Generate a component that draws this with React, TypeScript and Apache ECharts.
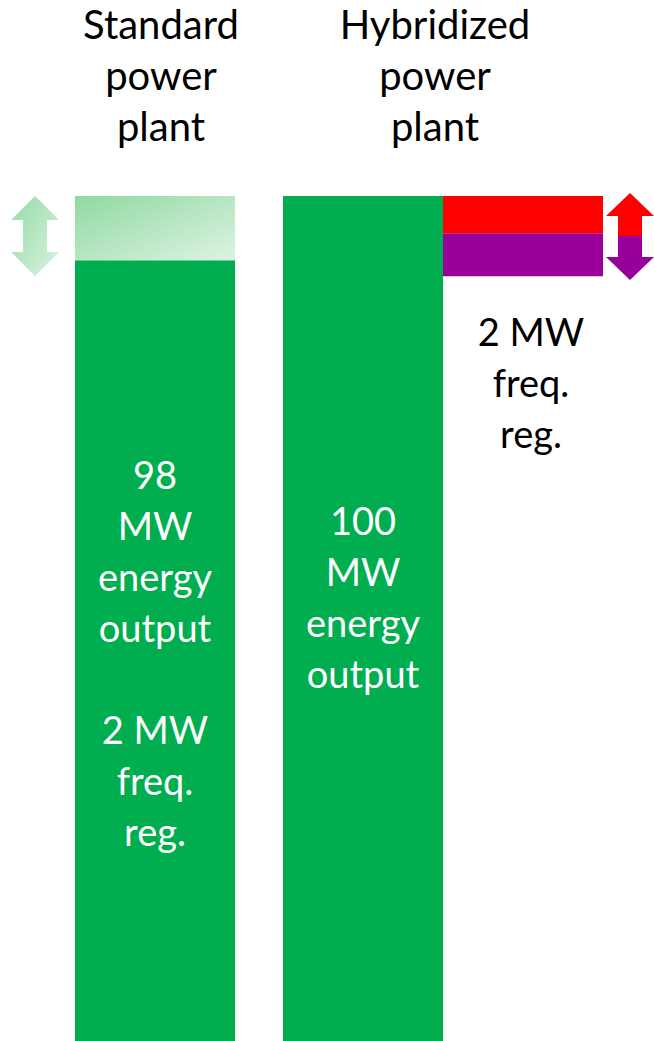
import React, { useEffect, useRef } from "react";
import * as echarts from "echarts";

const categories = ["Standard power plant", "Hybridized power plant"];
const headerTexts = ["Standard\npower\nplant", "Hybridized\npower\nplant"];
// schematic heights (axis 0..100)
const energyValues = [92.4, 100];
const standardRegBand = [7.6, null];
const batteryOffset = [null, 90.5];
const batteryDown = [null, 5.1];
const batteryUp = [null, 4.4];
const energyLabels = [
  "98\nMW\nenergy\noutput\n\n2 MW\nfreq.\nreg.",
  "100\nMW\nenergy\noutput",
];
const batteryLabel = "2 MW\nfreq.\nreg.";

const FONT = "Lato, 'Open Sans', sans-serif";
const GREEN = "#00AE4F";
const RED = "#FF0000";
const PURPLE = "#990099";

export default function App() {
  const ref = useRef<HTMLDivElement>(null);
  useEffect(() => {
    if (!ref.current) return;
    const chart = echarts.init(ref.current, undefined, { renderer: "svg" });
    const lightGrad = new echarts.graphic.LinearGradient(0, 0, 1, 1, [
      { offset: 0, color: "#90D9A1" },
      { offset: 1, color: "#DDF3E3" },
    ]);
    const arrowGreen = new echarts.graphic.LinearGradient(0, 0, 1, 1, [
      { offset: 0, color: "#96DBA7" },
      { offset: 1, color: "#D9F2DF" },
    ]);
    const arrowRP = new echarts.graphic.LinearGradient(0, 0, 0, 1, [
      { offset: 0, color: RED },
      { offset: 0.5, color: RED },
      { offset: 0.5, color: PURPLE },
      { offset: 1, color: PURPLE },
    ]);
    const mkArrow = (cx: number, y0: number, y1: number, hw: number, sw: number, head: number, fill: any) => ({
      type: "polygon",
      shape: {
        points: [
          [cx, y0],
          [cx + hw, y0 + head],
          [cx + sw, y0 + head],
          [cx + sw, y1 - head],
          [cx + hw, y1 - head],
          [cx, y1],
          [cx - hw, y1 - head],
          [cx - sw, y1 - head],
          [cx - sw, y0 + head],
          [cx - hw, y0 + head],
        ],
      },
      style: { fill },
      silent: true,
    });
    const headerStyle = { fontFamily: FONT, fontSize: 40, fontWeight: "normal", color: "#000", lineHeight: 51 };
    chart.setOption({
      animation: false,
      title: [
        { text: headerTexts[0], left: 156, top: -7, textAlign: "center", textStyle: headerStyle },
        { text: headerTexts[1], left: 430, top: -7, textAlign: "center", textStyle: headerStyle },
      ],
      grid: { left: 131, width: 416, top: 196, bottom: 0, containLabel: false },
      xAxis: { type: "category", data: categories, show: false },
      yAxis: { type: "value", min: 0, max: 100, show: false },
      series: [
        {
          type: "bar",
          stack: "main",
          barWidth: 160,
          barGap: "0%",
          clip: false,
          data: energyValues.map((v, i) => ({
            value: v,
            label: {
              show: true,
              position: "inside",
              offset: i === 1 ? [0, -22] : [0, 2],
              formatter: energyLabels[i],
              color: "#fff",
              fontFamily: FONT,
              fontSize: 38,
              lineHeight: 51,
              align: "center",
            },
          })),
          itemStyle: { color: GREEN },
        },
        {
          type: "bar",
          stack: "main",
          barWidth: 160,
          barGap: "0%",
          clip: false,
          data: standardRegBand.map((v) => (v == null ? "-" : v)),
          itemStyle: { color: lightGrad },
        },
        {
          type: "bar",
          stack: "bat",
          barWidth: 160,
          barGap: "0%",
          clip: false,
          silent: true,
          data: batteryOffset.map((v) => (v == null ? "-" : v)),
          itemStyle: { color: "rgba(0,0,0,0)" },
        },
        {
          type: "bar",
          stack: "bat",
          barWidth: 160,
          barGap: "0%",
          clip: false,
          data: batteryDown.map((v) => (v == null ? "-" : v)),
          itemStyle: { color: PURPLE },
          label: {
            show: true,
            position: "bottom",
            distance: 29,
            offset: [8, 0],
            formatter: batteryLabel,
            color: "#000",
            fontFamily: FONT,
            fontSize: 38,
            lineHeight: 51,
            align: "center",
          },
        },
        {
          type: "bar",
          stack: "bat",
          barWidth: 160,
          barGap: "0%",
          clip: false,
          data: batteryUp.map((v) => (v == null ? "-" : v)),
          itemStyle: { color: RED },
        },
      ],
      graphic: [
        mkArrow(35, 196, 276, 24, 12, 24, arrowGreen),
        mkArrow(630, 193, 280, 24, 12, 23, arrowRP),
      ],
    });
    return () => chart.dispose();
  }, []);
  return (
    <div
      ref={ref}
      style={{ position: "absolute", left: 0, top: 0, width: 654, height: 1041 }}
    />
  );
}
